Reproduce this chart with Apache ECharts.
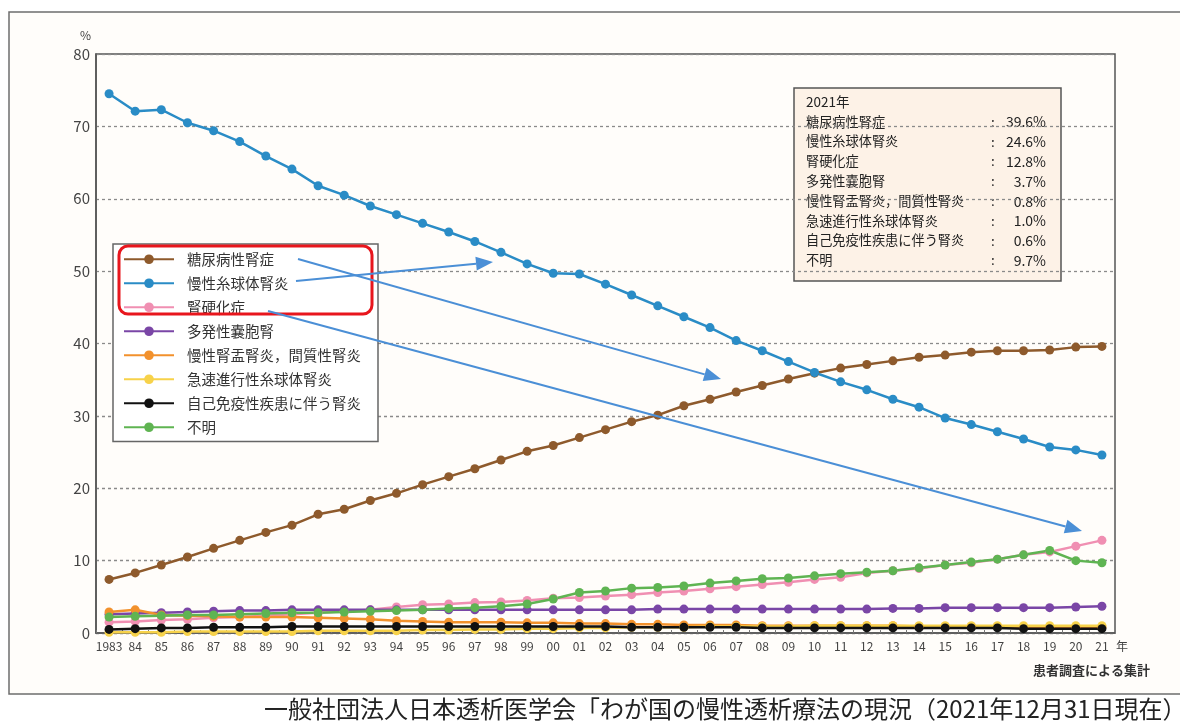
<!DOCTYPE html>
<html>
<head>
<meta charset="utf-8">
<script src="https://cdn.jsdelivr.net/npm/echarts@6/dist/echarts.min.js"></script>
<style>
  html, body { margin: 0; padding: 0; background: #ffffff; }
  #chart { width: 1180px; height: 725px; }
</style>
</head>
<body>
<div id="chart"></div>
<script>
// 年別 透析導入患者の主要原疾患割合（%）
const years = ['1983','84','85','86','87','88','89','90','91','92','93','94','95','96','97','98','99',
  '00','01','02','03','04','05','06','07','08','09','10','11','12','13','14','15','16','17','18','19','20','21'];

const diabetic = [7.4,8.3,9.4,10.5,11.7,12.8,13.9,14.9,16.4,17.1,
  18.3,19.3,20.5,21.6,22.7,23.9,25.1,25.9,27.0,28.1,
  29.2,30.1,31.4,32.3,33.3,34.2,35.1,35.9,36.6,37.1,
  37.6,38.1,38.4,38.8,39.0,39.0,39.1,39.5,39.6];
const glomerulo = [74.5,72.1,72.3,70.5,69.4,67.9,65.9,64.1,61.8,60.5,
  59.0,57.8,56.6,55.4,54.1,52.6,51.0,49.7,49.6,48.2,
  46.7,45.2,43.7,42.2,40.4,39.0,37.5,36.0,34.7,33.6,
  32.3,31.2,29.7,28.8,27.8,26.8,25.7,25.3,24.6];
const sclerosis = [1.5,1.6,1.8,1.9,2.1,2.2,2.4,2.6,2.8,3.0,
  3.2,3.6,3.9,4.0,4.2,4.3,4.5,4.8,4.9,5.1,
  5.3,5.6,5.8,6.1,6.4,6.7,7.0,7.4,7.7,8.3,
  8.6,8.9,9.4,9.7,10.2,10.8,11.2,12.0,12.8];
const polycystic = [2.6,2.7,2.8,2.9,3.0,3.1,3.1,3.2,3.2,3.2,
  3.2,3.2,3.2,3.2,3.2,3.2,3.2,3.2,3.2,3.2,
  3.2,3.3,3.3,3.3,3.3,3.3,3.3,3.3,3.3,3.3,
  3.4,3.4,3.5,3.5,3.5,3.5,3.5,3.6,3.7];
const pyelo = [2.9,3.2,2.5,2.4,2.3,2.2,2.2,2.2,2.1,2.0,
  1.9,1.7,1.6,1.5,1.5,1.5,1.4,1.4,1.3,1.3,
  1.2,1.2,1.1,1.1,1.1,1.0,1.0,1.0,1.0,1.0,
  1.0,0.9,0.9,0.9,0.9,0.8,0.8,0.8,0.8];
const rpgn = [0.1,0.1,0.1,0.2,0.2,0.2,0.2,0.2,0.3,0.3,
  0.3,0.3,0.4,0.4,0.5,0.5,0.6,0.6,0.7,0.7,
  0.8,0.8,0.8,0.9,0.9,0.9,0.9,1.0,1.0,1.0,
  1.0,1.0,1.0,1.0,1.0,1.0,1.0,1.0,1.0];
const autoimmune = [0.5,0.6,0.7,0.7,0.8,0.8,0.8,0.9,0.9,0.9,
  0.9,0.9,0.9,0.9,0.9,0.9,0.9,0.9,0.9,0.9,
  0.8,0.8,0.8,0.8,0.8,0.7,0.7,0.7,0.7,0.7,
  0.7,0.7,0.7,0.7,0.7,0.6,0.6,0.6,0.6];
const unknown = [2.2,2.3,2.4,2.5,2.5,2.6,2.7,2.8,2.8,2.9,
  3.0,3.1,3.2,3.4,3.5,3.7,4.0,4.7,5.6,5.8,
  6.2,6.3,6.5,6.9,7.2,7.5,7.6,7.9,8.2,8.4,
  8.6,9.0,9.4,9.8,10.2,10.8,11.4,10.0,9.7];

const seriesNames = ['糖尿病性腎症','慢性糸球体腎炎','腎硬化症','多発性嚢胞腎',
  '慢性腎盂腎炎，間質性腎炎','急速進行性糸球体腎炎','自己免疫性疾患に伴う腎炎','不明'];
const seriesData = [diabetic, glomerulo, sclerosis, polycystic, pyelo, rpgn, autoimmune, unknown];
const seriesColors = ['#8e5a2c','#2a8cc6','#f08fb2','#7a46a6','#f2912c','#f7d24a','#111111','#5fb452'];

// 2021年の内訳
const infoYear = '2021年';
const infoNames = ['糖尿病性腎症','慢性糸球体腎炎','腎硬化症','多発性嚢胞腎',
  '慢性腎盂腎炎，間質性腎炎','急速進行性糸球体腎炎','自己免疫性疾患に伴う腎炎','不明'];
const infoValues = ['39.6%','24.6%','12.8%','3.7%','0.8%','1.0%','0.6%','9.7%'];

const yTicks = [0,10,20,30,40,50,60,70,80];

const FONT = '"Noto Sans CJK JP", "Noto Sans", sans-serif';
const chart = echarts.init(document.getElementById('chart'), null, { renderer: 'canvas' });

function arrow(x1, y1, x2, y2, color) {
  const len = Math.hypot(x2 - x1, y2 - y1);
  const ux = (x2 - x1) / len, uy = (y2 - y1) / len;
  const hl = 17, hw = 7;
  const bx = x2 - ux * hl, by = y2 - uy * hl;
  return [
    { type: 'line', z: 100, shape: { x1: x1, y1: y1, x2: bx, y2: by },
      style: { stroke: color, lineWidth: 2 } },
    { type: 'polygon', z: 100, shape: { points: [[x2, y2], [bx - uy * hw, by + ux * hw], [bx + uy * hw, by - ux * hw]] },
      style: { fill: color } }
  ];
}

const graphics = [];
// outer frame
graphics.push({ type: 'rect', z: -10, shape: { x: 9, y: 12, width: 1200, height: 682 },
  style: { fill: '#fffdfa', stroke: '#6d6d6d', lineWidth: 1.5 } });
// unit labels
graphics.push({ type: 'text', left: 80, top: 29, style: { text: '%', font: '12px ' + FONT, fill: '#444' } });
graphics.push({ type: 'text', left: 1116, top: 640, style: { text: '年', font: '12px ' + FONT, fill: '#444' } });
graphics.push({ type: 'text', left: 1033, top: 664, style: { text: '患者調査による集計', font: 'bold 13px ' + FONT, fill: '#333' } });
graphics.push({ type: 'text', left: 264, top: 697, style: { text: '一般社団法人日本透析医学会「わが国の慢性透析療法の現況（2021年12月31日現在）', font: '24px ' + FONT, fill: '#222' } });

// 2021 breakdown box
const infoChildren = [
  { type: 'rect', shape: { x: 0, y: 0, width: 267, height: 193 },
    style: { fill: '#fdf2e7', stroke: '#555', lineWidth: 1.5 } },
  { type: 'text', x: 12, y: 7, style: { text: infoYear, font: '13.5px ' + FONT, fill: '#222' } }
];
infoNames.forEach(function (n, i) {
  const y = 27 + i * 19.8;
  infoChildren.push({ type: 'text', x: 12, y: y, style: { text: n, font: '13.2px ' + FONT, fill: '#222' } });
  infoChildren.push({ type: 'text', x: 197, y: y, style: { text: ':', font: '13.5px ' + FONT, fill: '#222' } });
  infoChildren.push({ type: 'text', x: 252, y: y, style: { text: infoValues[i], font: '14px ' + FONT, fill: '#222', align: 'right' } });
});
graphics.push({ type: 'group', x: 794, y: 88, z: 50, children: infoChildren });

// highlight around the first three legend entries
graphics.push({ type: 'rect', z: 60, shape: { x: 119, y: 246, width: 253, height: 68, r: 9 },
  style: { fill: 'none', stroke: '#e8161d', lineWidth: 3 } });

// pointer arrows
const arrowColor = '#4b8fd6';
Array.prototype.push.apply(graphics, arrow(298, 259, 721, 379, arrowColor));
Array.prototype.push.apply(graphics, arrow(296, 281, 493, 262, arrowColor));
Array.prototype.push.apply(graphics, arrow(268, 311, 1082, 531, arrowColor));

const series = seriesNames.map(function (name, i) {
  return {
    name: name,
    type: 'line',
    data: seriesData[i],
    symbol: 'circle',
    symbolSize: 9,
    itemStyle: { color: seriesColors[i] },
    lineStyle: { color: seriesColors[i], width: 2.5 },
    animation: false,
    z: i < 2 ? 5 : 3
  };
});

chart.setOption({
  backgroundColor: 'transparent',
  animation: false,
  textStyle: { fontFamily: FONT },
  grid: { left: 96, right: 65, top: 54, bottom: 92, show: true, borderColor: '#555', borderWidth: 1.5, backgroundColor: 'transparent' },
  legend: {
    orient: 'vertical',
    left: 113, top: 244,
    data: seriesNames,
    itemWidth: 50, itemHeight: 12, itemGap: 9.5,
    padding: [8, 17, 7, 10],
    backgroundColor: '#ffffff',
    borderColor: '#666', borderWidth: 1.5,
    textStyle: { fontSize: 14.5, color: '#333', fontFamily: FONT, padding: [0, 0, 0, 8] },
    selectedMode: false,
    z: 40
  },
  xAxis: {
    type: 'category',
    data: years,
    boundaryGap: true,
    axisLine: { lineStyle: { color: '#555', width: 1.5 } },
    axisTick: { show: true, inside: true, length: 3, lineStyle: { color: '#777' } },
    axisLabel: { color: '#444', fontSize: 12, margin: 7, interval: 0 },
    splitLine: { show: false }
  },
  yAxis: {
    type: 'value',
    min: yTicks[0], max: yTicks[yTicks.length - 1], interval: 10,
    axisLine: { show: true, lineStyle: { color: '#555', width: 1.5 } },
    axisTick: { show: false },
    axisLabel: { color: '#444', fontSize: 15, margin: 6 },
    splitLine: { show: true, lineStyle: { color: '#8a8a8a', width: 1.3, type: [3, 3] } }
  },
  series: series,
  graphic: graphics
});
</script>
</body>
</html>
